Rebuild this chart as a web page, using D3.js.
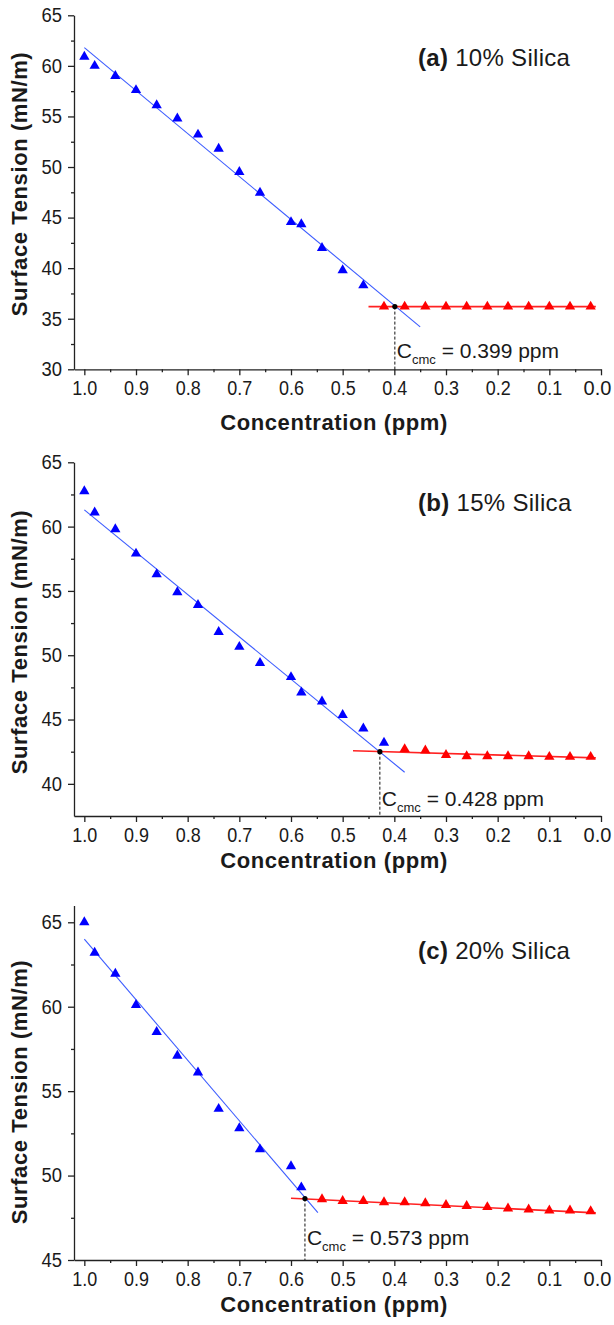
<!DOCTYPE html>
<html>
<head>
<meta charset="utf-8">
<script src="https://cdn.jsdelivr.net/npm/d3@7"></script>
<style>
  body { margin: 0; background: #fff; }
  svg text { font-family: "Liberation Sans", Arial, Helvetica, sans-serif; fill: #1a1a1a; }
  .axis .domain, .axis line { stroke: #222; stroke-width: 1.3; }
  .axis text { font-size: 20px; fill: #1a1a1a; }
</style>
</head>
<body>
<svg id="chart" width="614" height="1325"></svg>
<script>
// x ticks (ppm), shared by all three panels
var xMajor = [1.0, 0.9, 0.8, 0.7, 0.6, 0.5, 0.4, 0.3, 0.2, 0.1, 0.0];
var xMinor = [0.95, 0.85, 0.75, 0.65, 0.55, 0.45, 0.35, 0.25, 0.15, 0.05];

// (a) 10% Silica
var concBlueA = [1.0, 0.98, 0.94, 0.90, 0.86, 0.82, 0.78, 0.74, 0.70, 0.66, 0.60, 0.58, 0.54, 0.50, 0.46];
var tensBlueA = [60.9, 60.0, 59.0, 57.6, 56.1, 54.8, 53.2, 51.8, 49.5, 47.45, 44.55, 44.35, 42.0, 39.8, 38.3];
var concRedA  = [0.42, 0.38, 0.34, 0.30, 0.26, 0.22, 0.18, 0.14, 0.10, 0.06, 0.02];
var tensRedA  = [36.2, 36.2, 36.2, 36.2, 36.2, 36.2, 36.2, 36.2, 36.2, 36.2, 36.2];
var fitBlueA  = [[1.0, 61.8], [0.35, 34.2]];
var fitRedA   = [[0.45, 36.2], [0.01, 36.2]];
var cmcA      = [0.399, 36.2];
var yMajorA   = [30, 35, 40, 45, 50, 55, 60, 65];
var yMinorA   = [32.5, 37.5, 42.5, 47.5, 52.5, 57.5, 62.5];

// (b) 15% Silica
var concBlueB = [1.0, 0.98, 0.94, 0.90, 0.86, 0.82, 0.78, 0.74, 0.70, 0.66, 0.60, 0.58, 0.54, 0.50, 0.46, 0.42];
var tensBlueB = [62.75, 61.1, 59.8, 57.9, 56.3, 54.9, 53.9, 51.8, 50.65, 49.4, 48.3, 47.1, 46.4, 45.35, 44.3, 43.2];
var concRedB  = [0.38, 0.34, 0.30, 0.26, 0.22, 0.18, 0.14, 0.10, 0.06, 0.02];
var tensRedB  = [42.7, 42.6, 42.25, 42.15, 42.15, 42.15, 42.15, 42.1, 42.1, 42.1];
var fitBlueB  = [[1.0, 61.3], [0.38, 40.9]];
var fitRedB   = [[0.48, 42.57], [0.01, 42.02]];
var cmcB      = [0.428, 42.5];
var yMajorB   = [40, 45, 50, 55, 60, 65];
var yMinorB   = [42.5, 47.5, 52.5, 57.5, 62.5];

// (c) 20% Silica
var concBlueC = [1.0, 0.98, 0.94, 0.90, 0.86, 0.82, 0.78, 0.74, 0.70, 0.66, 0.60, 0.58];
var tensBlueC = [65.0, 63.2, 61.95, 60.1, 58.5, 57.1, 56.1, 53.95, 52.8, 51.55, 50.55, 49.3];
var concRedC  = [0.54, 0.50, 0.46, 0.42, 0.38, 0.34, 0.30, 0.26, 0.22, 0.18, 0.14, 0.10, 0.06, 0.02];
var tensRedC  = [48.6, 48.5, 48.5, 48.42, 48.42, 48.36, 48.26, 48.2, 48.13, 48.05, 47.99, 47.93, 47.93, 47.89];
var fitBlueC  = [[1.0, 64.0], [0.548, 47.8]];
var fitRedC   = [[0.60, 48.66], [0.01, 47.79]];
var cmcC      = [0.573, 48.64];
var yMajorC   = [45, 50, 55, 60, 65];
var yMinorC   = [47.5, 52.5, 57.5, 62.5];

var panels = [
  { tag: "(a)", name: " 10% Silica", blue: [concBlueA, tensBlueA], red: [concRedA, tensRedA],
    fitBlue: fitBlueA, fitRed: fitRedA, cmc: cmcA, yDomain: [30, 65], yMajor: yMajorA, yMinor: yMinorA,
    top: 15.3, bottom: 369.3, titleY: 66, xLabelY: 430, yLabelC: 184, noteUp: 11 },
  { tag: "(b)", name: " 15% Silica", blue: [concBlueB, tensBlueB], red: [concRedB, tensRedB],
    fitBlue: fitBlueB, fitRed: fitRedB, cmc: cmcB, yDomain: [37.5, 65], yMajor: yMajorB, yMinor: yMinorB,
    top: 462.3, bottom: 816, titleY: 511, xLabelY: 868, yLabelC: 642, noteUp: 10 },
  { tag: "(c)", name: " 20% Silica", blue: [concBlueC, tensBlueC], red: [concRedC, tensRedC],
    fitBlue: fitBlueC, fitRed: fitRedC, cmc: cmcC, yDomain: [45, 66], yMajor: yMajorC, yMinor: yMinorC,
    top: 905.4, bottom: 1260, titleY: 959, xLabelY: 1312, yLabelC: 1092, noteUp: 15 }
];

var svg = d3.select("#chart");
var x = d3.scaleLinear().domain([1.02, 0]).range([74, 601]);
var tri = d3.symbol().type(d3.symbolTriangle).size(46);

panels.forEach(function(p) {
  var y = d3.scaleLinear().domain(p.yDomain).range([p.bottom, p.top]);
  var g = svg.append("g");

  // minor ticks
  g.append("g").attr("class", "axis").attr("transform", "translate(0," + p.bottom + ")")
    .call(d3.axisBottom(x).tickValues(xMinor).tickSize(3).tickFormat(""))
    .select(".domain").remove();
  g.append("g").attr("class", "axis").attr("transform", "translate(74,0)")
    .call(d3.axisLeft(y).tickValues(p.yMinor).tickSize(3).tickFormat(""))
    .select(".domain").remove();

  // major axes (labels squeezed a little, the original font is narrow)
  var xt = g.append("g").attr("class", "axis").attr("transform", "translate(0," + p.bottom + ")")
    .call(d3.axisBottom(x).tickValues(xMajor).tickSize(6).tickSizeOuter(0).tickPadding(6).tickFormat(d3.format(".1f")))
    .selectAll("text");
  xt.filter(function(d) { return d !== 0; })
    .attr("textLength", 25).attr("lengthAdjust", "spacingAndGlyphs");
  // last label sits on the page edge
  xt.filter(function(d) { return d === 0; })
    .attr("font-size", "18px").attr("dx", -4);
  g.append("g").attr("class", "axis").attr("transform", "translate(74,0)")
    .call(d3.axisLeft(y).tickValues(p.yMajor).tickSize(6).tickSizeOuter(0).tickPadding(6).tickFormat(d3.format("d")))
    .selectAll("text").attr("textLength", 20.5).attr("lengthAdjust", "spacingAndGlyphs");

  var line = d3.line().x(function(d) { return x(d[0]); }).y(function(d) { return y(d[1]); });

  g.append("path").attr("d", line(p.fitBlue))
    .attr("fill", "none").attr("stroke", "#3c5cff").attr("stroke-width", 1.1);
  g.append("path").attr("d", line(p.fitRed))
    .attr("fill", "none").attr("stroke", "#ff2222").attr("stroke-width", 1.6);

  g.selectAll(".blue").data(d3.zip(p.blue[0], p.blue[1])).enter()
    .append("path").attr("class", "blue")
    .attr("d", tri)
    .attr("transform", function(d) { return "translate(" + x(d[0]) + "," + y(d[1]) + ")"; })
    .attr("fill", "#0000ff");
  g.selectAll(".red").data(d3.zip(p.red[0], p.red[1])).enter()
    .append("path").attr("class", "red")
    .attr("d", tri)
    .attr("transform", function(d) { return "translate(" + x(d[0]) + "," + y(d[1]) + ")"; })
    .attr("fill", "#ff0000");

  // cmc marker
  g.append("line")
    .attr("x1", x(p.cmc[0])).attr("x2", x(p.cmc[0]))
    .attr("y1", y(p.cmc[1])).attr("y2", p.bottom)
    .attr("stroke", "#111").attr("stroke-width", 1).attr("stroke-dasharray", "3,2");
  g.append("circle").attr("cx", x(p.cmc[0])).attr("cy", y(p.cmc[1])).attr("r", 2.6).attr("fill", "#000");

  var note = g.append("text").attr("x", x(p.cmc[0]) + 2).attr("y", p.bottom - p.noteUp)
    .attr("font-size", "21px");
  note.append("tspan").text("C");
  note.append("tspan").attr("font-size", "13px").attr("dy", 6).text("cmc");
  note.append("tspan").attr("dy", -6).text(" = " + p.cmc[0].toFixed(3) + " ppm");

  // panel title
  var title = g.append("text").attr("x", 418).attr("y", p.titleY).attr("font-size", "24px")
    .attr("letter-spacing", "0.3px");
  title.append("tspan").attr("font-weight", "bold").text(p.tag);
  title.append("tspan").text(p.name);

  // axis labels
  g.append("text").attr("x", 334).attr("y", p.xLabelY)
    .attr("text-anchor", "middle").attr("font-weight", "bold").attr("font-size", "22px")
    .attr("letter-spacing", "0.6px")
    .text("Concentration (ppm)");
  g.append("text")
    .attr("transform", "translate(27," + p.yLabelC + ") rotate(-90)")
    .attr("text-anchor", "middle").attr("font-weight", "bold").attr("font-size", "22px")
    .attr("letter-spacing", "0.6px")
    .text("Surface Tension (mN/m)");
});
</script>
</body>
</html>
